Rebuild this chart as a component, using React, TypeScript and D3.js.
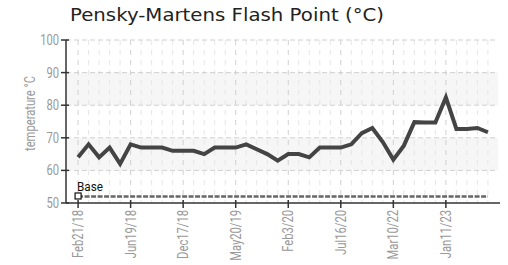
import React from "react";
import * as d3 from "d3";

const title = "Pensky-Martens Flash Point (°C)";
const yLabel = "temperature °C";
const baseLabel = "Base";

const dates = [
  "Feb21/18", "", "", "", "", "Jun19/18", "", "", "", "",
  "Dec17/18", "", "", "", "", "May20/19", "", "", "", "",
  "Feb3/20", "", "", "", "", "Jul16/20", "", "", "", "",
  "Mar10/22", "", "", "", "", "Jan11/23", "", "", "", "",
];

const flashPoint = [
  64, 68, 64, 67, 62, 68, 67, 67, 67, 66,
  66, 66, 65, 67, 67, 67, 68, 66.5, 65, 63,
  65, 65, 64, 67, 67, 67, 68, 71.4, 73, 68.7,
  63.3, 67.6, 74.8, 74.7, 74.7, 82.4, 72.7, 72.7, 73, 71.7,
];

const baseValue = 52;
const yTicks = [50, 60, 70, 80, 90, 100];
const bands = [[60, 70], [80, 90]];

const W = 508;
const H = 265;
const left = 66;
const right = 500;
const top = 40;
const bottom = 203;

const narrow = "Roboto, 'Liberation Sans', sans-serif";
const sx = 0.8;

export default function App() {
  const idx = dates.map((_, i) => i);
  const x = d3.scalePoint<number>().domain(idx).range([left, right]).padding(1.15);
  const y = d3.scaleLinear().domain([50, 100]).range([bottom, top]);

  const line = d3
    .line<number>()
    .x((_, i) => x(i) as number)
    .y((d) => y(d));

  const baseData = dates.map(() => baseValue);
  const majorIdx = idx.filter((i) => dates[i] !== "");

  return (
    <svg
      width={W}
      height={H}
      style={{ position: "absolute", left: 0, top: 0, background: "#fff" }}
    >
      {bands.map(([a, b], k) => (
        <rect
          key={"band" + k}
          x={left}
          y={y(b)}
          width={right - left - 2}
          height={y(a) - y(b)}
          fill="#f6f6f6"
        />
      ))}
      {idx.map((i) => (
        <line
          key={"vg" + i}
          x1={x(i)}
          x2={x(i)}
          y1={top}
          y2={bottom}
          stroke={dates[i] !== "" ? "#d0d0d0" : "#e6e6e6"}
          strokeWidth={1}
          strokeDasharray="5,5"
        />
      ))}
      {yTicks
        .filter((t) => t > 50)
        .map((t) => (
          <line
            key={"hg" + t}
            x1={left}
            x2={right - 2}
            y1={y(t)}
            y2={y(t)}
            stroke="#d0d0d0"
            strokeWidth={1}
            strokeDasharray="5,3"
          />
        ))}
      <path
        d={line(baseData) || ""}
        fill="none"
        stroke="#666"
        strokeWidth={2.5}
        strokeDasharray="5,1.5"
      />
      <rect
        x={(x(0) as number) - 3}
        y={y(baseValue) - 3.5}
        width={6}
        height={6}
        fill="#fff"
        stroke="#111"
        strokeWidth={1.2}
      />
      <text
        transform={`translate(${(x(0) as number) - 1},${y(baseValue) - 5.5}) scale(0.9,1)`}
        fontFamily={narrow}
        fontSize={13}
        fill="#111"
      >
        {baseLabel}
      </text>
      <path
        d={line(flashPoint) || ""}
        fill="none"
        stroke="#444"
        strokeWidth={4}
        strokeLinejoin="miter"
      />
      <line x1={left} x2={left} y1={top} y2={bottom} stroke="#333" strokeWidth={1.5} />
      <line x1={left} x2={right} y1={bottom} y2={bottom} stroke="#333" strokeWidth={1.5} />
      {yTicks.map((t) => (
        <g key={"yt" + t}>
          <line x1={left - 5} x2={left + 3} y1={y(t)} y2={y(t)} stroke="#333" strokeWidth={1.5} />
          <text
            transform={`translate(${left - 7},${y(t)}) scale(${sx},1)`}
            dy="0.36em"
            textAnchor="end"
            fontFamily={narrow}
            fontSize={14}
            fill="#999"
          >
            {t}
          </text>
        </g>
      ))}
      {majorIdx.map((i) => (
        <g key={"xt" + i}>
          <line
            x1={x(i)}
            x2={x(i)}
            y1={bottom - 3}
            y2={bottom + 5}
            stroke="#333"
            strokeWidth={1.5}
          />
          <text
            transform={`translate(${(x(i) as number) + 5},${bottom + 7}) rotate(-90) scale(${sx},1)`}
            textAnchor="end"
            fontFamily={narrow}
            fontSize={14}
            fill="#999"
          >
            {dates[i]}
          </text>
        </g>
      ))}
      <text
        transform={`translate(35,${(top + bottom) / 2 - 8}) rotate(-90) scale(${sx},1)`}
        textAnchor="middle"
        fontFamily={narrow}
        fontSize={14}
        fill="#999"
      >
        {yLabel}
      </text>
      <text
        x={70}
        y={21}
        fontFamily="'DejaVu Sans', sans-serif"
        fontSize={17}
        fill="#222"
        textLength={314}
        lengthAdjust="spacingAndGlyphs"
      >
        {title}
      </text>
    </svg>
  );
}
